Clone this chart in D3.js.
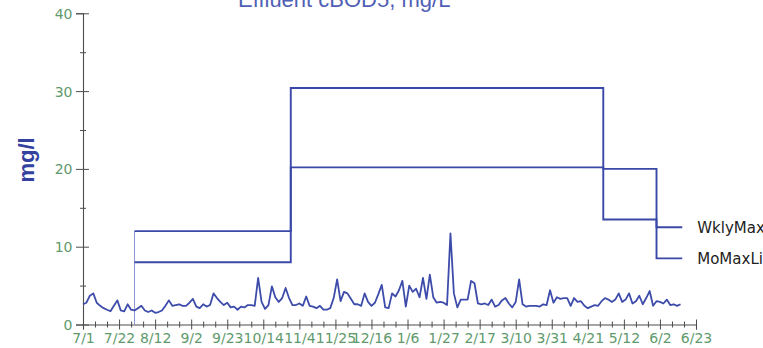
<!DOCTYPE html>
<html>
<head>
<meta charset="utf-8">
<script src="https://cdn.jsdelivr.net/npm/d3@7"></script>
<style>
  html, body { margin: 0; padding: 0; background: #fff; }
  svg { display: block; }
</style>
</head>
<body>
<svg id="chart" width="763" height="348"></svg>
<script>
// Effluent cBOD5 daily results with the weekly and monthly permit limits.
const chartTitle = "Effluent cBOD5, mg/L";
const yTitle = "mg/l";

// Results, one every two days starting 7/1
const sampleStart = "2012-07-01";
const sampleStepDays = 2;
const cbod5 = [
  2.6, 2.8, 3.7, 4.0, 2.8, 2.4, 2.1, 1.9, 1.7, 2.4,
  3.1, 1.8, 1.7, 2.6, 1.9, 1.8, 2.1, 2.4, 1.8, 1.6,
  1.8, 1.5, 1.6, 1.8, 2.4, 3.1, 2.4, 2.5, 2.6, 2.4,
  2.4, 2.8, 3.3, 2.3, 2.1, 2.6, 2.3, 2.5, 4.0, 3.4,
  2.9, 2.5, 2.8, 2.2, 2.3, 1.9, 2.3, 2.2, 2.5, 2.5,
  2.4, 6.0, 2.9, 2.0, 2.5, 4.9, 3.5, 2.9, 3.4, 4.7,
  3.4, 2.5, 2.5, 2.7, 2.4, 3.6, 2.4, 2.3, 2.1, 2.4,
  1.9, 1.9, 2.1, 3.4, 5.8, 3.0, 4.2, 4.0, 3.3, 2.6,
  2.6, 2.4, 4.0, 2.9, 2.4, 2.8, 3.9, 5.1, 2.2, 2.1,
  4.0, 3.6, 4.4, 5.6, 2.3, 5.0, 4.2, 4.6, 3.5, 6.0,
  3.3, 6.4, 3.5, 2.8, 2.9, 2.8, 2.5, 11.7, 4.0, 2.2,
  3.2, 3.2, 3.2, 5.6, 5.3, 2.7, 2.6, 2.7, 2.5, 3.2,
  2.3, 2.5, 3.1, 3.4, 2.7, 2.2, 2.9, 5.8, 2.6, 2.3,
  2.4, 2.4, 2.4, 2.3, 2.6, 2.5, 4.4, 2.8, 3.5, 3.3,
  3.4, 3.4, 2.4, 3.4, 2.9, 3.0, 2.4, 2.1, 2.3, 2.5,
  2.4, 3.0, 3.4, 3.2, 2.9, 3.2, 4.0, 2.9, 3.2, 4.0,
  2.7, 3.0, 3.7, 2.6, 3.4, 4.3, 2.4, 3.0, 2.9, 2.7,
  3.2, 2.5, 2.6, 2.4, 2.6
];

// Permit limit periods: each limit holds from one date to the next
const limitDates = ["2012-07-31", "2012-10-30", "2013-04-30", "2013-05-31", "2013-06-15"];
const wklyMaxLimit = [12, 30.4, 20, 12.5];
const moMaxLimit = [8, 20.2, 13.5, 8.5];
const limitNames = ["WklyMaxLimit", "MoMaxLimit"];

// Axis ticks
const xStart = "2012-07-01";
const xEnd = "2013-06-23";
const xMajorStepDays = 21;
const xMinorStepDays = 7;
const yMajorTicks = [0, 10, 20, 30, 40];
const yMinorTicks = [5, 15, 25, 35];

const parse = d3.utcParse("%Y-%m-%d");
const fmt = d3.utcFormat("%-m/%-d");

const svg = d3.select("#chart");
const plotLeft = 83, plotRight = 696, plotTop = 13.3, plotBottom = 324.5;

const x = d3.scaleUtc().domain([parse(xStart), parse(xEnd)]).range([plotLeft, plotRight]);
const y = d3.scaleLinear().domain([0, 40]).range([plotBottom, plotTop]);

const axisColor = "#4d4d4d";
const labelColor = "#5f9a6c";
const lineColor = "#3a48a8";
const tickFont = "'DejaVu Sans', sans-serif";

// Title (sits at the very top edge)
svg.append("text")
  .attr("x", 238).attr("y", 7)
  .attr("font-family", "'Liberation Sans', Arial, sans-serif")
  .attr("font-size", 22)
  .attr("fill", "#5060b4")
  .text(chartTitle);

// Y axis title
svg.append("text")
  .attr("transform", "translate(34,160) rotate(-90)")
  .attr("text-anchor", "middle")
  .attr("font-family", "'Liberation Sans', Arial, sans-serif")
  .attr("font-size", 22)
  .attr("font-weight", "bold")
  .attr("fill", "#33429e")
  .text(yTitle);

// Y axis: major ticks cross the axis line, minor ticks are short crosses
const yAxisG = svg.append("g").attr("transform", `translate(${plotLeft},0)`);
yAxisG.call(d3.axisLeft(y).tickValues(yMajorTicks).tickSize(7).tickPadding(3.5));
yAxisG.selectAll(".tick line").attr("x1", 6);
const yMinorG = svg.append("g").attr("transform", `translate(${plotLeft},0)`);
yMinorG.call(d3.axisLeft(y).tickValues(yMinorTicks).tickSize(3).tickFormat(""));
yMinorG.selectAll(".tick line").attr("x1", 3);
yMinorG.select(".domain").remove();

// X axis: major ticks every three weeks, minor ticks weekly
const majorDates = d3.utcDay.range(parse(xStart), d3.utcDay.offset(parse(xEnd), 1), xMajorStepDays);
const minorDates = d3.utcDay.range(parse(xStart), d3.utcDay.offset(parse(xEnd), 1), xMinorStepDays)
  .filter(d => !majorDates.some(m => +m === +d));
const xAxisG = svg.append("g").attr("transform", `translate(0,${plotBottom})`);
xAxisG.call(d3.axisBottom(x).tickValues(majorDates).tickFormat(fmt).tickSize(5).tickPadding(3));
xAxisG.selectAll(".tick line").attr("y1", -5);
const xMinorG = svg.append("g").attr("transform", `translate(0,${plotBottom})`);
xMinorG.call(d3.axisBottom(x).tickValues(minorDates).tickSize(3).tickFormat(""));
xMinorG.selectAll(".tick line").attr("y1", -3);
xMinorG.select(".domain").remove();

[yAxisG, yMinorG, xAxisG, xMinorG].forEach(g => {
  g.selectAll(".domain").attr("stroke", axisColor).attr("stroke-width", 1.1);
  g.selectAll(".tick line").attr("stroke", axisColor).attr("stroke-width", 1);
  g.selectAll(".tick text")
    .attr("fill", labelColor)
    .attr("font-family", tickFont)
    .attr("font-size", 14);
});
yAxisG.selectAll(".tick text").attr("dy", "0.36em");
xAxisG.selectAll(".tick text").attr("dy", "0.76em");

// Limit steps
const limitLine = d3.line()
  .x(d => x(d.date))
  .y(d => y(d.value))
  .curve(d3.curveStepAfter);
const stepData = vals => limitDates.map((ds, i) => ({
  date: parse(ds),
  value: i < vals.length ? vals[i] : vals[vals.length - 1]
}));

// Thin riser where the limits begin
svg.append("line")
  .attr("x1", x(parse(limitDates[0]))).attr("x2", x(parse(limitDates[0])))
  .attr("y1", y(0)).attr("y2", y(wklyMaxLimit[0]))
  .attr("stroke", "#8e9ad4").attr("stroke-width", 1);

[wklyMaxLimit, moMaxLimit].forEach(vals => {
  svg.append("path")
    .datum(stepData(vals))
    .attr("d", limitLine)
    .attr("fill", "none")
    .attr("stroke", lineColor)
    .attr("stroke-width", 1.9);
});

// Limit labels at the right end of each step line
const endDate = parse(limitDates[limitDates.length - 1]);
[[wklyMaxLimit, limitNames[0]], [moMaxLimit, limitNames[1]]].forEach(([vals, name]) => {
  svg.append("text")
    .attr("x", x(endDate) + 15)
    .attr("y", y(vals[vals.length - 1]))
    .attr("dy", "0.36em")
    .attr("font-family", tickFont)
    .attr("font-size", 15)
    .attr("fill", "#222")
    .text(name);
});

// Results line
const samples = cbod5.map((v, i) => ({
  date: d3.utcDay.offset(parse(sampleStart), i * sampleStepDays),
  value: v
}));
svg.append("path")
  .datum(samples)
  .attr("d", d3.line().x(d => x(d.date)).y(d => y(d.value)))
  .attr("fill", "none")
  .attr("stroke", "#3d4caa")
  .attr("stroke-width", 1.8)
  .attr("stroke-linejoin", "round");
</script>
</body>
</html>
